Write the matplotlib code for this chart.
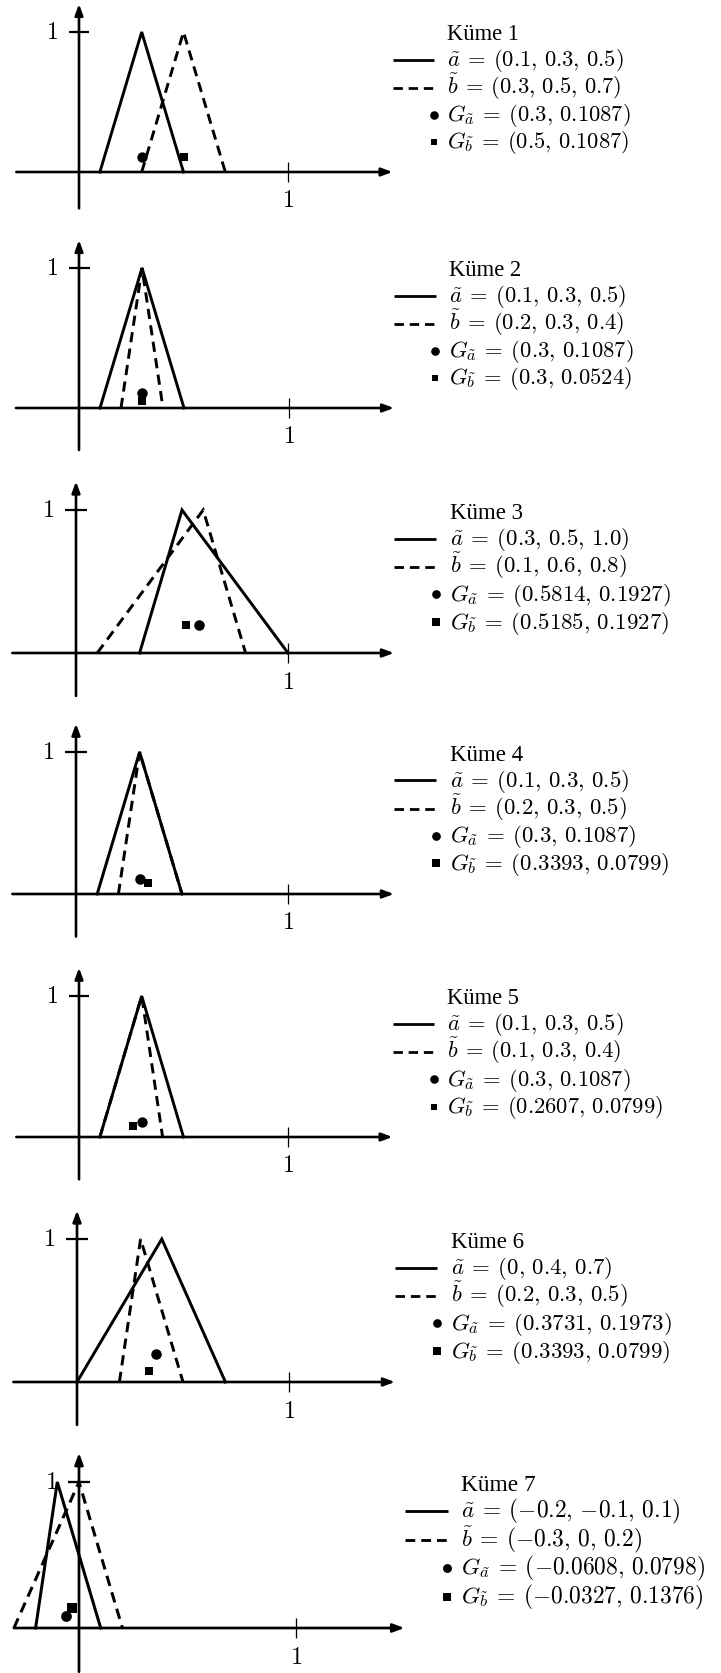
import matplotlib
matplotlib.use('Agg')
import matplotlib.pyplot as plt

plt.rcParams['mathtext.fontset'] = 'cm'

# ---------------- data ----------------
kume_titles = ['Küme 1', 'Küme 2', 'Küme 3', 'Küme 4', 'Küme 5', 'Küme 6', 'Küme 7']
a_tri = [(0.1, 0.3, 0.5), (0.1, 0.3, 0.5), (0.3, 0.5, 1.0), (0.1, 0.3, 0.5),
         (0.1, 0.3, 0.5), (0.0, 0.4, 0.7), (-0.2, -0.1, 0.1)]
b_tri = [(0.3, 0.5, 0.7), (0.2, 0.3, 0.4), (0.1, 0.6, 0.8), (0.2, 0.3, 0.5),
         (0.1, 0.3, 0.4), (0.2, 0.3, 0.5), (-0.3, 0.0, 0.2)]
g_a = [(0.3, 0.1087), (0.3, 0.1087), (0.5814, 0.1927), (0.3, 0.1087),
       (0.3, 0.1087), (0.3731, 0.1973), (-0.0608, 0.0798)]
g_b = [(0.5, 0.1087), (0.3, 0.0524), (0.5185, 0.1927), (0.3393, 0.0799),
       (0.2607, 0.0799), (0.3393, 0.0799), (-0.0327, 0.1376)]
a_labels = ['0.1, 0.3, 0.5', '0.1, 0.3, 0.5', '0.3, 0.5, 1.0', '0.1, 0.3, 0.5',
            '0.1, 0.3, 0.5', '0, 0.4, 0.7', '-0.2, -0.1, 0.1']
b_labels = ['0.3, 0.5, 0.7', '0.2, 0.3, 0.4', '0.1, 0.6, 0.8', '0.2, 0.3, 0.5',
            '0.1, 0.3, 0.4', '0.2, 0.3, 0.5', '-0.3, 0, 0.2']
ga_labels = ['0.3, 0.1087', '0.3, 0.1087', '0.5814, 0.1927', '0.3, 0.1087',
             '0.3, 0.1087', '0.3731, 0.1973', '-0.0608, 0.0798']
gb_labels = ['0.5, 0.1087', '0.3, 0.0524', '0.5185, 0.1927', '0.3393, 0.0799',
             '0.2607, 0.0799', '0.3393, 0.0799', '-0.0327, 0.1376']
tick_label = '1'

# ---------------- layout (pixels) ----------------
W, H = 721, 1673
origin_px = [79, 79, 76, 76, 79, 77, 79]
ux = [209, 210, 212, 212, 209, 212, 217]
axis_py = [172, 408, 653, 894, 1137, 1382, 1628]
uy = [140, 140, 143, 142, 141, 143, 146]
bounds = [0, 225, 460, 700, 940, 1180, 1420, 1673]


def mfmt(s):
    # unary minus and TeX-like spacing after commas
    return s.replace('-', '{-}').replace(', ', r',\,')


def mtext(lhs, vals):
    return '$' + lhs + r'\:=\:(' + mfmt(vals) + ')$'


fig = plt.figure(figsize=(W / 100, H / 100), dpi=100)

for i in range(7):
    T, B = bounds[i], bounds[i + 1]
    ax = fig.add_axes([0, 1 - B / H, 1, (B - T) / H])
    ax.set_xlim(-origin_px[i] / ux[i], (W - origin_px[i]) / ux[i])
    ax.set_ylim((axis_py[i] - B) / uy[i], (axis_py[i] - T) / uy[i])
    ax.axis('off')
    s = ux[i] / 210.0
    lw = 2.1 * s
    fs = 16.3 * s

    # axes with arrows
    arr = dict(arrowstyle='-|>,head_length=0.65,head_width=0.24', lw=lw * 0.9, color='k',
               shrinkA=0, shrinkB=0, mutation_scale=10 * s)
    ax.annotate('', xy=(1.5, 0), xytext=(-0.3, 0), arrowprops=arr)
    ybot = -0.26 if i == 0 else -0.3
    ax.annotate('', xy=(0, 1.2), xytext=(0, ybot), arrowprops=arr)
    # ticks
    ax.plot([-0.05, 0.05], [1, 1], color='k', lw=1.6 * s, solid_capstyle='butt')
    ax.plot([1, 1], [-0.07, 0.07], color='k', lw=0.9 * s, solid_capstyle='butt')
    ax.text(-0.13, 1.0, '$' + tick_label + '$', fontsize=fs * 1.05, ha='center', va='center')
    ax.text(1.0, -0.2, '$' + tick_label + '$', fontsize=fs * 1.05, ha='center', va='center')

    # triangles
    a0, a1, a2 = a_tri[i]
    b0, b1, b2 = b_tri[i]
    ax.plot([a0, a1, a2], [0, 1, 0], color='k', lw=lw, solid_joinstyle='miter')
    ax.plot([b0, b1, b2], [0, 1, 0], color='k', lw=lw, ls=(0, (3.5, 2.2)),
            dash_joinstyle='miter')
    # centroids
    ax.plot([g_a[i][0]], [g_a[i][1]], 'o', color='k', ms=7.5 * s, mew=0)
    ax.plot([g_b[i][0]], [g_b[i][1]], 's', color='k', ms=6.3 * s, mew=0)

    # legend
    tx = 1.762
    ax.text(tx, 0.94, kume_titles[i], fontsize=fs, family='Liberation Serif',
            ha='left', va='baseline')
    ax.plot([1.50, 1.70], [0.80, 0.80], color='k', lw=lw * 0.95, solid_capstyle='butt')
    ax.plot([1.50, 1.70], [0.60, 0.60], color='k', lw=lw * 0.95, ls=(0, (3.4, 2.1)),
            dash_capstyle='butt')
    ax.plot([1.697], [0.41], 'o', color='k', ms=6.2 * s, mew=0, clip_on=False)
    ax.plot([1.697], [0.215], 's', color='k', ms=5.0 * s, mew=0, clip_on=False)
    ax.text(tx, 0.757, mtext(r'\tilde{a}', a_labels[i]), fontsize=fs,
            ha='left', va='baseline')
    ax.text(tx, 0.557, mtext(r'\tilde{b}', b_labels[i]), fontsize=fs,
            ha='left', va='baseline')
    ax.text(tx, 0.364, mtext(r'G_{\tilde{a}}', ga_labels[i]), fontsize=fs,
            ha='left', va='baseline')
    ax.text(tx, 0.171, mtext(r'G_{\tilde{b}}', gb_labels[i]), fontsize=fs,
            ha='left', va='baseline')

fig.savefig('out.png', dpi=100, facecolor='white')
